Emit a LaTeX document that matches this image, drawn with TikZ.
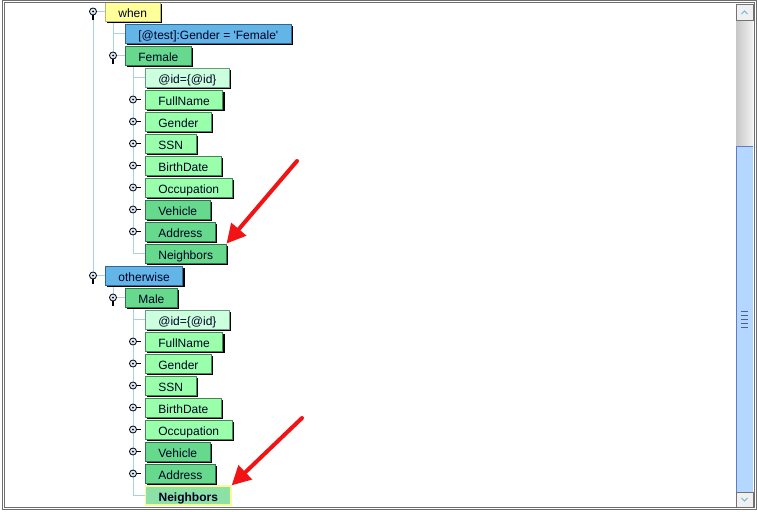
\documentclass[tikz,border=0pt]{standalone}
\usepackage{fontspec}
\setmainfont{Liberation Sans}
\usetikzlibrary{arrows.meta, shadows, backgrounds, calc}
\definecolor{cWhen}{RGB}{255,255,153}
\definecolor{cWhenLine}{RGB}{185,185,110}
\definecolor{cCond}{RGB}{99,181,232}
\definecolor{cCondLine}{RGB}{45,105,145}
\definecolor{cElem}{RGB}{102,217,140}
\definecolor{cElemLine}{RGB}{45,115,75}
\definecolor{cAttr}{RGB}{204,255,221}
\definecolor{cAttrLine}{RGB}{105,155,125}
\definecolor{cLeaf}{RGB}{153,255,170}
\definecolor{cLeafLine}{RGB}{65,135,85}
\definecolor{cSel}{RGB}{140,226,166}
\definecolor{cSelLine}{RGB}{250,250,150}
\definecolor{cTree}{RGB}{170,205,245}
\definecolor{cArrow}{RGB}{240,20,20}
\definecolor{cThumb}{RGB}{180,215,255}
\definecolor{cFrame}{RGB}{110,110,110}
\tikzset{
	tbase/.style   ={rectangle, anchor=west, inner xsep=13pt, inner ysep=0pt, minimum height=19pt, text height=12pt, text depth=0pt, line width=0.8pt, font=\fontsize{12}{14}\selectfont, text=black!85!blue},
	tnode/.style   ={tbase, drop shadow={shadow xshift=2pt, shadow yshift=-2pt, fill=black, opacity=1}},
	whenbox/.style ={tnode, fill=cWhen, draw=cWhenLine},
	condbox/.style ={tnode, fill=cCond, draw=cCondLine},
	elembox/.style ={tnode, fill=cElem, draw=cElemLine},
	attrbox/.style ={tnode, fill=cAttr, draw=cAttrLine},
	leafbox/.style ={tnode, fill=cLeaf, draw=cLeafLine},
	selbox/.style  ={tbase, fill=cSel, draw=cSelLine, line width=1.3pt, font=\fontsize{12}{14}\selectfont\bfseries},
	% tree expander icons and lines
	xpand/.style   ={circle, draw=black, line width=0.8pt, fill=cTree!45, minimum size=7pt, inner sep=0pt, path picture={\fill[black] (path picture bounding box.center) circle (1pt);}},
	stem/.style    ={line width=1.6pt, black},
	tline/.style   ={cTree, line width=1pt},
	redarrow/.style={-{Triangle[length=19pt, width=19pt]}, line width=4pt, line cap=round, cArrow},
}
\begin{document}
\begin{tikzpicture}[x=1pt, y=-1pt]
	\useasboundingbox (0,0) rectangle (757,511);
	% first branch
	\node[xpand] (iWhen) at (93,11.5) {};
	\node[whenbox] (when) at (105,11.5) {when};
	\node[condbox] (cond) at (125,33.5) {[@test]:Gender = \textquotesingle Female\textquotesingle};
	\node[xpand] (iFem) at (113,55.5) {};
	\node[elembox] (fem) at (125,55.5) {Female};
	\node[attrbox] (fId) at (145,77.5) {@id=\{@id\}};
	\node[xpand] (iF1) at (133,99.5) {};
	\node[leafbox] (f1) at (145,99.5) {FullName};
	\node[xpand] (iF2) at (133,121.5) {};
	\node[leafbox] (f2) at (145,121.5) {Gender};
	\node[xpand] (iF3) at (133,143.5) {};
	\node[leafbox] (f3) at (145,143.5) {SSN};
	\node[xpand] (iF4) at (133,165.5) {};
	\node[leafbox] (f4) at (145,165.5) {BirthDate};
	\node[xpand] (iF5) at (133,187.5) {};
	\node[leafbox] (f5) at (145,187.5) {Occupation};
	\node[xpand] (iF6) at (133,209.5) {};
	\node[elembox] (f6) at (145,209.5) {Vehicle};
	\node[xpand] (iF7) at (133,231.5) {};
	\node[elembox] (f7) at (145,231.5) {Address};
	\node[elembox] (nbA) at (145,253.5) {Neighbors};
	% second branch
	\node[xpand] (iOther) at (93,275.5) {};
	\node[condbox] (other) at (105,275.5) {otherwise};
	\node[xpand] (iMale) at (113,297.5) {};
	\node[elembox] (male) at (125,297.5) {Male};
	\node[attrbox] (mId) at (145,319.5) {@id=\{@id\}};
	\node[xpand] (iM1) at (133,341.5) {};
	\node[leafbox] (m1) at (145,341.5) {FullName};
	\node[xpand] (iM2) at (133,363.5) {};
	\node[leafbox] (m2) at (145,363.5) {Gender};
	\node[xpand] (iM3) at (133,385.5) {};
	\node[leafbox] (m3) at (145,385.5) {SSN};
	\node[xpand] (iM4) at (133,407.5) {};
	\node[leafbox] (m4) at (145,407.5) {BirthDate};
	\node[xpand] (iM5) at (133,429.5) {};
	\node[leafbox] (m5) at (145,429.5) {Occupation};
	\node[xpand] (iM6) at (133,451.5) {};
	\node[elembox] (m6) at (145,451.5) {Vehicle};
	\node[xpand] (iM7) at (133,473.5) {};
	\node[elembox] (m7) at (145,473.5) {Address};
	\node[selbox] (nbB) at (145,495.5) {Neighbors};
	% tree lines
	\begin{scope}[on background layer]
		\draw[tline] (iWhen.south) -- (iOther.north);
		\draw[tline] (iWhen.east) -- (when.west);
		\draw[tline] (iFem |- when.south) -- (iFem.north);
		\draw[tline] (iFem |- cond.west) -- (cond.west);
		\draw[tline] (iFem.east) -- (fem.west);
		\draw[tline] (iF1 |- fem.south) -- (iF1 |- nbA.west) -- (nbA.west);
		\draw[tline] (iF1 |- fId.west) -- (fId.west);
		\draw[tline] (iOther.east) -- (other.west);
		\draw[tline] (iMale |- other.south) -- (iMale.north);
		\draw[tline] (iMale.east) -- (male.west);
		\draw[tline] (iM1 |- male.south) -- (iM1 |- nbB.west) -- (nbB.west);
		\draw[tline] (iM1 |- mId.west) -- (mId.west);
	\end{scope}
	% stems of the expander icons
	\draw[stem] (iWhen.south) -- ++(0,5);
	\draw[stem] (iFem.south) -- ++(0,5);
	\draw[stem] (iOther.south) -- ++(0,5);
	\draw[stem] (iMale.south) -- ++(0,5);
	\draw[stem] (iF1.east) -- ++(4,0);  \draw[stem] (iF2.east) -- ++(4,0);
	\draw[stem] (iF3.east) -- ++(4,0);  \draw[stem] (iF4.east) -- ++(4,0);
	\draw[stem] (iF5.east) -- ++(4,0);  \draw[stem] (iF6.east) -- ++(4,0);
	\draw[stem] (iF7.east) -- ++(4,0);
	\draw[stem] (iM1.east) -- ++(4,0);  \draw[stem] (iM2.east) -- ++(4,0);
	\draw[stem] (iM3.east) -- ++(4,0);  \draw[stem] (iM4.east) -- ++(4,0);
	\draw[stem] (iM5.east) -- ++(4,0);  \draw[stem] (iM6.east) -- ++(4,0);
	\draw[stem] (iM7.east) -- ++(4,0);
	% scroll bar
	\shade[left color=black!22, right color=black!5] (736,20) rectangle (753,146);
	\fill[cThumb] (736,146) rectangle (753,492);
	\draw[cThumb!70!blue!80!black, line width=0.8pt] (736.5,146) -- (736.5,492) (736,146.5) -- (753,146.5);
	\foreach \gy in {311,315,319,323,327}
		\draw[cThumb!60!blue!70!black, line width=0.8pt] (741,\gy) -- (748,\gy);
	\draw[black!55, fill=black!6] (736,4) rectangle (753,20);
	\draw[black!55, fill=black!6] (736,492) rectangle (753,507);
	\draw[cCond, line width=0.8pt] (741.5,14) -- (744.5,11) -- (747.5,14);
	\draw[cCond, line width=0.8pt] (741.5,498) -- (744.5,501) -- (747.5,498);
	% window frame
	\draw[cFrame, line width=1pt] (2,1) rectangle (756,509);
	\draw[cFrame, line width=1pt] (4,3) rectangle (754,507);
	% pointers
	\coordinate (ptA) at (297,161);
	\coordinate (ptB) at (302,418);
	\draw[redarrow] (ptA) -- (nbA.north east);
	\draw[redarrow] (ptB) -- (nbB.north east);
\end{tikzpicture}
\end{document}
